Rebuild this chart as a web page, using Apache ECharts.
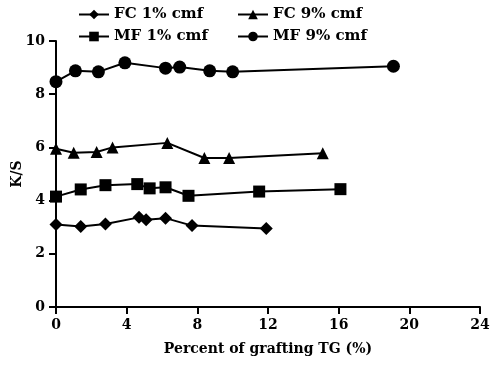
<!DOCTYPE html>
<html>
<head>
<meta charset="utf-8">
<script src="https://cdn.jsdelivr.net/npm/echarts@6/dist/echarts.min.js"></script>
<style>
  html, body { margin: 0; padding: 0; background: #fff; }
  #chart { width: 492px; height: 365px; }
</style>
</head>
<body>
<div id="chart"></div>
<script>
// values: [percent of grafting TG, K/S]
var fc1 = [[0, 3.1], [1.4, 3.03], [2.8, 3.12], [4.7, 3.37], [5.1, 3.28], [6.2, 3.34], [7.7, 3.06], [11.9, 2.95]];
var fc9 = [[0, 5.95], [1.0, 5.8], [2.3, 5.83], [3.2, 6.0], [6.3, 6.17], [8.4, 5.6], [9.8, 5.6], [15.1, 5.78]];
var mf1 = [[0, 4.15], [1.4, 4.42], [2.8, 4.58], [4.6, 4.62], [5.3, 4.46], [6.2, 4.5], [7.5, 4.18], [11.5, 4.34], [16.1, 4.43]];
var mf9 = [[0, 8.47], [1.1, 8.88], [2.4, 8.84], [3.9, 9.18], [6.2, 8.98], [7.0, 9.02], [8.7, 8.88], [10.0, 8.84], [19.1, 9.05]];

var seriesNames = ['FC 1% cmf', 'FC 9% cmf', 'MF 1% cmf', 'MF 9% cmf'];
var xTicks = [0, 4, 8, 12, 16, 20, 24];
var yTicks = [0, 2, 4, 6, 8, 10];

var font = 'DejaVu Serif';

function makeSeries(name, data, symbol, size) {
    return {
        name: name,
        type: 'line',
        data: data,
        symbol: symbol,
        symbolSize: size,
        lineStyle: { color: '#000', width: 2 },
        itemStyle: { color: '#000' },
        z: 3
    };
}

function makeLegend(name, left, top) {
    return {
        data: [name],
        left: left,
        top: top,
        padding: 0,
        itemWidth: 30,
        itemHeight: 12,
        itemGap: 0,
        textStyle: { fontFamily: font, fontWeight: 'bold', fontSize: 15, color: '#000' }
    };
}

function tickStyle() {
    return { show: true, inside: false, length: 7, lineStyle: { color: '#000', width: 2, opacity: 1 } };
}

var chart = echarts.init(document.getElementById('chart'));
chart.setOption({
    animation: false,
    backgroundColor: '#fff',
    legend: [
        makeLegend(seriesNames[0], 78, 7),
        makeLegend(seriesNames[1], 237, 7),
        makeLegend(seriesNames[2], 78, 29),
        makeLegend(seriesNames[3], 237, 29)
    ],
    grid: { left: 56, right: 12, top: 41, bottom: 58, outerBoundsMode: 'none' },
    xAxis: {
        type: 'value',
        min: xTicks[0],
        max: xTicks[xTicks.length - 1],
        interval: 4,
        name: 'Percent of grafting TG (%)',
        nameLocation: 'middle',
        nameGap: 35,
        nameMoveOverlap: false,
        nameTextStyle: { fontFamily: font, fontWeight: 'bold', fontSize: 14, color: '#000' },
        axisLine: { show: true, onZero: false, lineStyle: { color: '#000', width: 2 } },
        axisTick: tickStyle(),
        axisLabel: { fontFamily: font, fontWeight: 'bold', fontSize: 14, color: '#000', margin: 11 },
        splitLine: { show: false }
    },
    yAxis: {
        type: 'value',
        min: yTicks[0],
        max: yTicks[yTicks.length - 1],
        interval: 2,
        name: 'K/S',
        nameLocation: 'middle',
        nameGap: 32,
        nameMoveOverlap: false,
        nameTextStyle: { fontFamily: font, fontWeight: 'bold', fontSize: 14, color: '#000' },
        axisLine: { show: true, onZero: false, lineStyle: { color: '#000', width: 2 } },
        axisTick: tickStyle(),
        axisLabel: { fontFamily: font, fontWeight: 'bold', fontSize: 14, color: '#000', margin: 11 },
        splitLine: { show: false }
    },
    series: [
        makeSeries(seriesNames[0], fc1, 'diamond', 13),
        makeSeries(seriesNames[1], fc9, 'triangle', 12),
        makeSeries(seriesNames[2], mf1, 'rect', 12),
        makeSeries(seriesNames[3], mf9, 'circle', 13)
    ]
});
</script>
</body>
</html>
